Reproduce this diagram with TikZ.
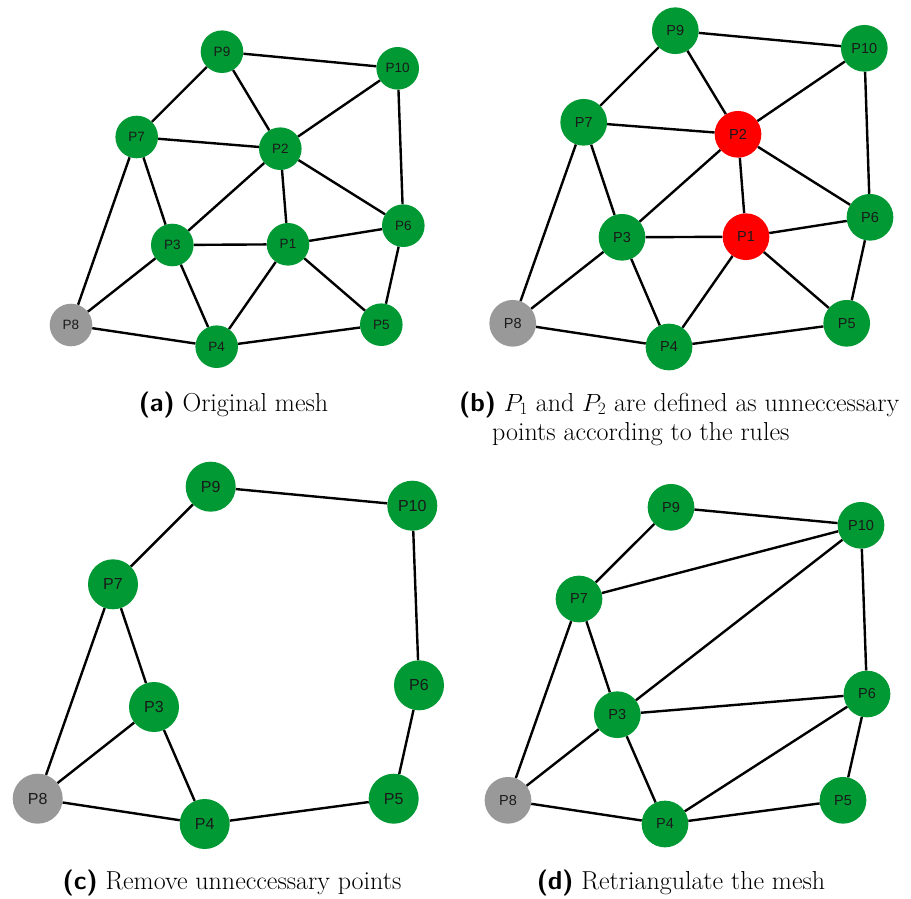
\documentclass[tikz,border=0pt]{standalone}
\usepackage{fontspec}
\newfontfamily\labfont{Liberation Sans}
\definecolor{mgreen}{RGB}{0,153,51}
\definecolor{mred}{RGB}{255,0,0}
\definecolor{mgrey}{RGB}{153,153,153}
\definecolor{mtext}{RGB}{26,26,26}
\tikzset{
  pt/.style={circle, fill=mgreen, draw=none, inner sep=0pt, text=mtext},
  ptA/.style={pt, minimum size=42.6pt, font=\labfont\fontsize{13.5}{13.5}\selectfont},
  ptB/.style={pt, minimum size=46.7pt, font=\labfont\fontsize{14.5}{14.5}\selectfont},
  ptC/.style={pt, minimum size=50pt, font=\labfont\fontsize{16}{16}\selectfont},
  ptD/.style={pt, minimum size=46.7pt, font=\labfont\fontsize{14.5}{14.5}\selectfont},
  redpt/.style={fill=mred},
  greypt/.style={fill=mgrey},
  edge/.style={draw=black, line width=2.4pt},
  captext/.style={font=\fontsize{26}{28}\selectfont, inner sep=0pt, anchor=base},
}
\newcommand{\capl}[1]{{\sffamily\bfseries(#1)}}
\begin{document}
\begin{tikzpicture}[x=1pt, y=-1pt]
\useasboundingbox (0,0) rectangle (911,899);

% ---------- (a) ----------
\node[ptA] (a9) at (222,51.7) {P9};
\node[ptA] (a10) at (397.7,68.3) {P10};
\node[ptA] (a7) at (136.7,137) {P7};
\node[ptA] (a2) at (280.3,148.7) {P2};
\node[ptA] (a3) at (172.3,245) {P3};
\node[ptA] (a1) at (288,244.3) {P1};
\node[ptA] (a6) at (403.3,225.7) {P6};
\node[ptA, greypt] (a8) at (71,325) {P8};
\node[ptA] (a4) at (216.7,346.7) {P4};
\node[ptA] (a5) at (381.3,324.7) {P5};
\foreach \u/\v in {a9/a10,a9/a7,a9/a2,a7/a2,a7/a3,a7/a8,a2/a10,a2/a3,a2/a1,a2/a6,a10/a6,a3/a1,a3/a8,a3/a4,a1/a6,a1/a4,a1/a5,a6/a5,a8/a4,a4/a5}
  \draw[edge] (\u) -- (\v);

% ---------- (b) ----------
\node[ptB] (b9) at (675.3,30.7) {P9};
\node[ptB] (b10) at (864.3,48.3) {P10};
\node[ptB] (b7) at (583.7,122.3) {P7};
\node[ptB, redpt] (b2) at (738,134.3) {P2};
\node[ptB] (b3) at (622,237.3) {P3};
\node[ptB, redpt] (b1) at (746,236.7) {P1};
\node[ptB] (b6) at (870,217.3) {P6};
\node[ptB, greypt] (b8) at (512.7,323.3) {P8};
\node[ptB] (b4) at (669,347) {P4};
\node[ptB] (b5) at (846.7,323.3) {P5};
\foreach \u/\v in {b9/b10,b9/b7,b9/b2,b7/b2,b7/b3,b7/b8,b2/b10,b2/b3,b2/b1,b2/b6,b10/b6,b3/b1,b3/b8,b3/b4,b1/b6,b1/b4,b1/b5,b6/b5,b8/b4,b4/b5}
  \draw[edge] (\u) -- (\v);

% ---------- (c) ----------
\node[ptC] (c9) at (210.7,486.7) {P9};
\node[ptC] (c10) at (412.3,505.7) {P10};
\node[ptC] (c7) at (113,584.3) {P7};
\node[ptC] (c3) at (154,707) {P3};
\node[ptC] (c6) at (419,685.3) {P6};
\node[ptC, greypt] (c8) at (37.7,798.7) {P8};
\node[ptC] (c4) at (204.7,824) {P4};
\node[ptC] (c5) at (393.7,798.7) {P5};
\foreach \u/\v in {c9/c10,c9/c7,c7/c3,c7/c8,c10/c6,c6/c5,c3/c8,c3/c4,c8/c4,c4/c5}
  \draw[edge] (\u) -- (\v);

% ---------- (d) ----------
\node[ptD] (d9) at (671,507.3) {P9};
\node[ptD] (d10) at (861,525.3) {P10};
\node[ptD] (d7) at (579,599) {P7};
\node[ptD] (d3) at (617.3,714.7) {P3};
\node[ptD] (d6) at (867,694) {P6};
\node[ptD, greypt] (d8) at (508,800.3) {P8};
\node[ptD] (d4) at (665,824) {P4};
\node[ptD] (d5) at (843,800.3) {P5};
\foreach \u/\v in {d9/d10,d9/d7,d7/d10,d7/d3,d7/d8,d3/d10,d3/d6,d3/d8,d3/d4,d10/d6,d6/d4,d6/d5,d8/d4,d4/d5}
  \draw[edge] (\u) -- (\v);

% ---------- captions ----------
\node[captext] (capa) at (233.5,411) {\capl{a} Original mesh};
\node[captext, anchor=base west] (capb1) at (459,411) {\capl{b} $P_1$ and $P_2$ are defined as unneccessary};
\node[captext, anchor=base west] (capb2) at (492,440) {points according to the rules};
\node[captext] (capc) at (232,889) {\capl{c} Remove unneccessary points};
\node[captext] (capd) at (681,889) {\capl{d} Retriangulate the mesh};
\end{tikzpicture}
\end{document}
